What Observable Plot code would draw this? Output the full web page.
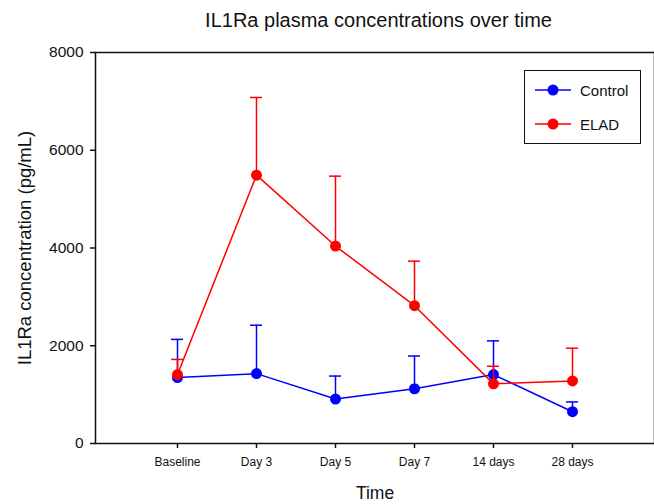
<!DOCTYPE html>
<html>
<head>
<meta charset="utf-8">
<script src="https://cdn.jsdelivr.net/npm/d3@7"></script>
<script src="https://cdn.jsdelivr.net/npm/@observablehq/plot@0.6"></script>
<style>
  body { margin: 0; background: white; font-family: "Liberation Sans", Arial, sans-serif; color: #111; }
  #wrap { position: relative; width: 654px; height: 504px; }
  #title { position: absolute; top: 10px; left: 99px; width: 559px; text-align: center; font-size: 20px; line-height: 20px; }
  #chart { position: absolute; top: 40px; left: 0; }
  #legend { position: absolute; left: 524px; top: 70px; width: 117px; height: 74px; box-sizing: border-box; border: 1.5px solid #111; background: white; }
  .row { position: absolute; left: 10px; height: 20px; display: flex; align-items: center; font-size: 15px; }
  .row span { margin-left: 9px; }
</style>
</head>
<body>
<div id="wrap">
  <div id="title">IL1Ra plasma concentrations over time</div>
  <div id="chart"></div>
  <div id="legend"></div>
</div>
<script>
const categories = ["Baseline", "Day 3", "Day 5", "Day 7", "14 days", "28 days"];
const controlMean = [1350, 1430, 910, 1120, 1410, 650];
const controlErr  = [780, 990, 470, 670, 690, 200];
const eladMean    = [1410, 5490, 4040, 2820, 1220, 1280];
const eladErr     = [310, 1590, 1430, 910, 360, 670];
const yTicks = [0, 2000, 4000, 6000, 8000];
const seriesNames = ["Control", "ELAD"];
const seriesColors = ["#0000ff", "#ff0000"];

function rows(means, errs) {
  return categories.map((c, i) => ({cat: c, mean: means[i], top: means[i] + errs[i]}));
}
const control = rows(controlMean, controlErr);
const elad = rows(eladMean, eladErr);

function seriesMarks(data, color) {
  return [
    Plot.ruleX(data, {x: "cat", y1: "mean", y2: "top", stroke: color, strokeWidth: 1.5}),
    Plot.ruleY(data, {y: "top", x1: "cat", x2: "cat", insetLeft: -6, insetRight: -6, stroke: color, strokeWidth: 1.5}),
    Plot.line(data, {x: "cat", y: "mean", stroke: color, strokeWidth: 1.5}),
    Plot.dot(data, {x: "cat", y: "mean", fill: color, r: 5.5})
  ];
}

const chart = Plot.plot({
  width: 654,
  height: 464,
  marginLeft: 95,
  marginRight: 0,
  marginTop: 12,
  marginBottom: 61,
  style: {fontFamily: '"Liberation Sans", Arial, sans-serif', color: "#111", background: "white"},
  x: {type: "point", domain: categories, padding: 1, label: null},
  y: {domain: [0, 8000], label: null},
  marks: [
    Plot.axisY({ticks: yTicks, tickSize: 5, tickPadding: 7, fontSize: 15.5, label: null, tickFormat: d => String(d), strokeWidth: 1.5}),
    Plot.axisX({tickSize: 5, tickPadding: 9, fontSize: 12, label: null, strokeWidth: 1.5}),
    Plot.text(["IL1Ra concentration (pg/mL)"], {frameAnchor: "left", dx: -70, rotate: -90, textAnchor: "middle", lineAnchor: "middle", fontSize: 18.5, fill: "#111"}),
    Plot.text(["Time"], {frameAnchor: "bottom", dy: 50, textAnchor: "middle", lineAnchor: "middle", fontSize: 17.5, fill: "#111"}),
    ...seriesMarks(control, seriesColors[0]),
    ...seriesMarks(elad, seriesColors[1]),
    Plot.frame({stroke: "#111", strokeWidth: 1.5})
  ]
});
document.getElementById("chart").appendChild(chart);

const legend = document.getElementById("legend");
seriesNames.forEach((name, i) => {
  const row = document.createElement("div");
  row.className = "row";
  row.style.top = (i === 0 ? 9 : 43) + "px";
  row.innerHTML = `<svg width="36" height="20"><line x1="0" x2="36" y1="10" y2="10" stroke="${seriesColors[i]}" stroke-width="1.5"/><circle cx="18" cy="10" r="5.5" fill="${seriesColors[i]}"/></svg><span>${name}</span>`;
  legend.appendChild(row);
});
</script>
</body>
</html>
